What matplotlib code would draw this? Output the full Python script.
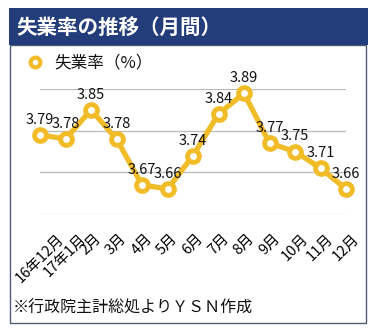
import matplotlib
matplotlib.use("Agg")
import matplotlib.pyplot as plt
from matplotlib.patches import Rectangle
from matplotlib.lines import Line2D

plt.rcParams['font.family'] = ['Noto Sans CJK JP', 'DejaVu Sans']

months = ["16年12月", "17年1月", "2月", "3月", "4月", "5月", "6月",
          "7月", "8月", "9月", "10月", "11月", "12月"]
rates = [3.79, 3.78, 3.85, 3.78, 3.67, 3.66, 3.74,
         3.84, 3.89, 3.77, 3.75, 3.71, 3.66]

title = "失業率の推移（月間）"
series_name = "失業率（%）"
source = "※行政院主計総処よりＹＳＮ作成"

YELLOW = "#F2BB28"
NAVY = "#233C7A"
BORDER = "#4E5D72"

W, H = 374, 331
fig = plt.figure(figsize=(W / 100, H / 100), dpi=100)
fig.patch.set_facecolor("white")

def fx(px):
    return px / W

def fy(py):
    return 1 - py / H

# panel frame and title band
fig.patches.append(Rectangle((fx(10), fy(323)), fx(366) - fx(10), fy(45) - fy(323),
                             transform=fig.transFigure, facecolor="white",
                             edgecolor=BORDER, linewidth=1.0, zorder=0))
fig.patches.append(Rectangle((fx(9), fy(45)), fx(368) - fx(9), fy(8) - fy(45),
                             transform=fig.transFigure, facecolor=NAVY,
                             edgecolor="none", zorder=1))
fig.text(fx(16), fy(27), title, color="white", fontsize=14.8, fontweight="bold",
         va="center", ha="left")

# legend entry
fig.add_artist(Line2D([fx(35)], [fy(62)], transform=fig.transFigure, marker="o",
                      markersize=7, markerfacecolor="white", markeredgecolor=YELLOW,
                      markeredgewidth=3.0, linestyle="none"))
fig.text(fx(54), fy(63), series_name, fontsize=12, va="center", ha="left", color="#111111")

# source note
fig.text(fx(13), fy(308), source, fontsize=11.5, va="center", ha="left", color="#111111")

ax = fig.add_axes([fx(40), fy(214), fx(346) - fx(40), fy(89) - fy(214)])
ax.set_zorder(3)
ax.set_facecolor("none")
x = list(range(len(months)))
ax.plot(x, rates, color=YELLOW, linewidth=3.8, marker="o", markersize=8.5,
        markerfacecolor="white", markeredgecolor=YELLOW, markeredgewidth=3.5,
        clip_on=False, zorder=3)
for xi, v in zip(x, rates):
    ax.annotate(f"{v:.2f}", (xi, v), xytext=(0, 8), textcoords="offset points",
                ha="center", va="baseline", fontsize=10.5, color="#111111", zorder=4)

ax.set_xlim(0, len(months) - 1)
ax.set_ylim(3.6, 3.9)
ax.set_yticks([3.6, 3.7, 3.8, 3.9])
ax.yaxis.grid(True, color="#BBBBBB", linewidth=0.9)
ax.set_axisbelow(True)
ax.tick_params(axis="y", left=False, labelleft=False)
ax.set_xticks(x)
ax.set_xticklabels(months, rotation=45, ha="center", va="top", fontsize=10.5)
ax.tick_params(axis="x", length=0, pad=12.5)
for s in ax.spines.values():
    s.set_visible(False)

fig.savefig("out.png", dpi=100)
